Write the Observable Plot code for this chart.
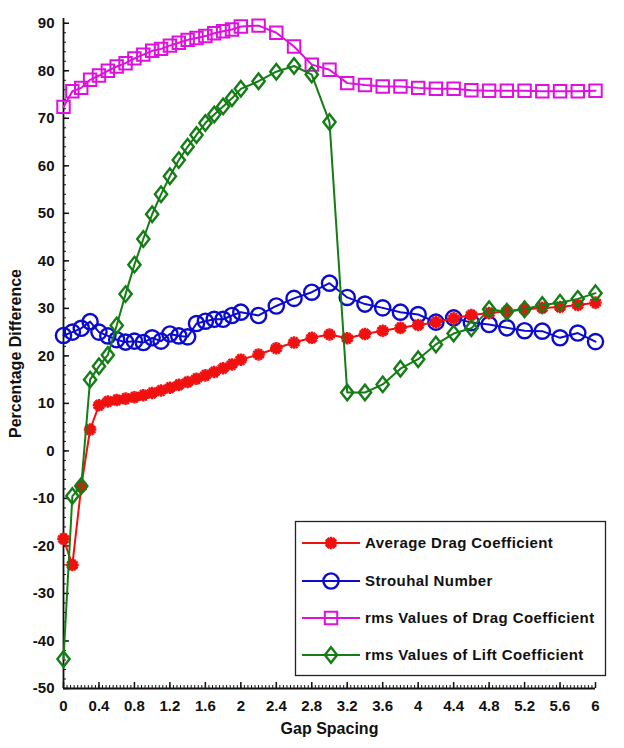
<!DOCTYPE html>
<html>
<head>
<meta charset="utf-8">
<script src="https://cdn.jsdelivr.net/npm/d3@7"></script>
<script src="https://cdn.jsdelivr.net/npm/@observablehq/plot@0.6"></script>
<style>
  html, body { margin: 0; padding: 0; background: #fff; }
  #chart { width: 624px; height: 748px; }
</style>
</head>
<body>
<div id="chart"></div>
<script>
// ---------- data ----------
const gapSpacing = [0, 0.1, 0.2, 0.3, 0.4, 0.5, 0.6, 0.7, 0.8, 0.9, 1.0, 1.1, 1.2, 1.3, 1.4, 1.5, 1.6, 1.7, 1.8, 1.9, 2.0,
  2.2, 2.4, 2.6, 2.8, 3.0, 3.2, 3.4, 3.6, 3.8, 4.0, 4.2, 4.4, 4.6, 4.8, 5.0, 5.2, 5.4, 5.6, 5.8, 6.0];

const avgDrag = [-18.5, -24.0, -7.5, 4.5, 9.6, 10.4, 10.7, 11.0, 11.3, 11.7, 12.2, 12.7, 13.3, 13.9, 14.5, 15.2, 15.9, 16.6, 17.4, 18.2, 19.2,
  20.3, 21.6, 22.8, 23.8, 24.5, 23.7, 24.6, 25.3, 25.9, 26.5, 27.1, 27.9, 28.6, 29.0, 29.4, 29.8, 30.1, 30.3, 30.7, 31.2];

const strouhal = [24.3, 25.0, 25.8, 27.2, 25.0, 24.2, 23.4, 22.9, 23.1, 22.8, 23.8, 23.1, 24.6, 24.2, 24.0, 26.8, 27.3, 27.7, 27.7, 28.5, 29.2,
  28.5, 30.5, 32.1, 33.4, 35.3, 32.3, 30.9, 30.1, 29.2, 28.7, 27.1, 28.0, 27.0, 26.6, 25.9, 25.3, 25.2, 23.8, 24.8, 23.0];

const rmsDrag = [72.4, 75.7, 76.4, 78.1, 79.0, 80.0, 80.9, 81.6, 82.6, 83.4, 84.2, 84.6, 85.3, 85.9, 86.5, 86.9, 87.3, 87.9, 88.3, 88.7, 89.3,
  89.5, 88.0, 85.1, 81.3, 80.2, 77.4, 77.0, 76.7, 76.7, 76.4, 76.2, 76.2, 75.9, 75.8, 75.8, 75.8, 75.7, 75.7, 75.7, 75.8];

const rmsLift = [-43.8, -9.5, -7.4, 15.0, 17.8, 20.2, 26.4, 33.0, 39.2, 44.6, 49.8, 54.0, 57.8, 61.2, 64.0, 66.5, 69.0, 70.8, 72.5, 74.2, 76.2,
  77.8, 79.8, 81.0, 79.2, 69.2, 12.3, 12.3, 14.0, 17.3, 19.3, 22.4, 24.7, 25.8, 29.8, 29.3, 29.8, 30.7, 31.2, 32.0, 33.2];

const seriesNames = ["Average Drag Coefficient", "Strouhal Number", "rms Values of Drag Coefficient", "rms Values of Lift Coefficient"];

const xTickLabels = [0, 0.4, 0.8, 1.2, 1.6, 2, 2.4, 2.8, 3.2, 3.6, 4, 4.4, 4.8, 5.2, 5.6, 6];
const yTickLabels = [-50, -40, -30, -20, -10, 0, 10, 20, 30, 40, 50, 60, 70, 80, 90];

const xLabel = "Gap Spacing";
const yLabel = "Percentage Difference";

// ---------- custom symbols ----------
const asteriskN = {
  draw(ctx, size) {
    const r = Math.sqrt(size / Math.PI);
    const n = 6;
    for (let i = 0; i < n; i++) {
      const a = i * Math.PI / n;
      ctx.moveTo(-r * Math.cos(a), -r * Math.sin(a));
      ctx.lineTo(r * Math.cos(a), r * Math.sin(a));
    }
  }
};
const diamondTall = {
  draw(ctx, size) {
    const r = Math.sqrt(size / Math.PI);
    const w = r * 0.85, h = r * 1.08;
    ctx.moveTo(0, -h); ctx.lineTo(w, 0); ctx.lineTo(0, h); ctx.lineTo(-w, 0); ctx.closePath();
  }
};
const squareOpen = {
  draw(ctx, size) {
    const r = Math.sqrt(size / Math.PI);
    const s = r * 0.9;
    ctx.rect(-s, -s, 2 * s, 2 * s);
  }
};
const circleOpen = {
  draw(ctx, size) {
    const r = Math.sqrt(size / Math.PI);
    ctx.moveTo(r, 0); ctx.arc(0, 0, r, 0, 2 * Math.PI);
  }
};

const styles = [
  {name: seriesNames[0], values: avgDrag,  color: "#f01010", symbol: asteriskN,   r: 6.3, sw: 2.4},
  {name: seriesNames[1], values: strouhal, color: "#0a0ad0", symbol: circleOpen,  r: 7.6, sw: 2.4},
  {name: seriesNames[2], values: rmsDrag,  color: "#dd10dd", symbol: squareOpen,  r: 6.9, sw: 2.0},
  {name: seriesNames[3], values: rmsLift,  color: "#157d15", symbol: diamondTall, r: 7.2, sw: 2.4}
];

const drawOrder = [1, 0, 2, 3];

const seriesMarks = [];
for (const i of drawOrder) {
  const s = styles[i];
  const rows = gapSpacing.map((g, j) => ({gap: g, value: s.values[j]}));
  seriesMarks.push(Plot.line(rows, {x: "gap", y: "value", stroke: s.color, strokeWidth: 2}));
  seriesMarks.push(Plot.dot(rows, {x: "gap", y: "value", symbol: () => s.symbol, r: s.r, stroke: s.color, fill: "none", strokeWidth: s.sw}));
}

const W = 624, H = 748, mL = 63, mR = 29, mT = 18, mB = 60;
const plotW = W - mL - mR, plotH = H - mT - mB;

const xMinor = d3.range(0, 6.0001, 0.04).map(v => +v.toFixed(2));
const yMinor = d3.range(-50, 91, 2);

const chart = Plot.plot({
  width: W, height: H,
  marginLeft: mL, marginRight: mR, marginTop: mT, marginBottom: mB,
  x: {domain: [0, 6]},
  y: {domain: [-50, 91]},
  symbol: {type: "identity"},
  style: {fontFamily: "'Liberation Sans', Arial, sans-serif", fontWeight: "bold", fontSize: "15px", background: "#fff", color: "#111"},
  marks: [
    Plot.tickY(yMinor, {y: d => d, insetRight: plotW - 3, stroke: "#111", strokeWidth: 1}),
    Plot.tickY(yTickLabels, {y: d => d, insetRight: plotW - 6, stroke: "#111", strokeWidth: 1.5}),
    Plot.tickX(xMinor, {x: d => d, insetTop: plotH - 3, stroke: "#111", strokeWidth: 1}),
    Plot.tickX(xTickLabels, {x: d => d, insetTop: plotH - 6, stroke: "#111", strokeWidth: 1.5}),
    Plot.ruleX([0], {stroke: "#111", strokeWidth: 1.8}),
    Plot.ruleY([-50], {stroke: "#111", strokeWidth: 1.8}),
    Plot.axisY(yTickLabels, {tickSize: 0, tickPadding: 9, tickFormat: d => String(d), fontSize: 15, fontWeight: "bold",
      label: null}),
    Plot.axisX(xTickLabels, {tickSize: 0, tickPadding: 12, tickFormat: d => String(d), fontSize: 15, fontWeight: "bold",
      label: null}),
    Plot.axisY({ticks: [], label: yLabel, labelAnchor: "center", labelOffset: 54, labelArrow: "none", fontSize: 16, fontWeight: "bold"}),
    Plot.axisX({ticks: [], label: xLabel, labelAnchor: "center", labelOffset: 45, labelArrow: "none", fontSize: 16, fontWeight: "bold"}),
    ...seriesMarks
  ]
});

document.getElementById("chart").appendChild(chart);

// ---------- legend (inside plot, lower right) ----------
const svg = d3.select(chart);
const lg = svg.append("g").attr("font-family", "'Liberation Sans', Arial, sans-serif").attr("font-weight", "bold")
  .attr("font-size", 15).attr("text-anchor", "start");
lg.append("rect").attr("x", 295.5).attr("y", 521.5).attr("width", 310).attr("height", 154)
  .attr("fill", "#fff").attr("stroke", "#222").attr("stroke-width", 1.3);
const rowsY = [543, 581, 618, 655];
styles.forEach((s, i) => {
  const y = rowsY[i];
  lg.append("line").attr("x1", 302).attr("x2", 360).attr("y1", y).attr("y2", y).attr("stroke", s.color).attr("stroke-width", 2);
  lg.append("path").attr("transform", `translate(331,${y})`)
    .attr("d", d3.symbol(s.symbol, Math.PI * s.r * s.r)())
    .attr("fill", "none").attr("stroke", s.color).attr("stroke-width", s.sw);
  lg.append("text").attr("x", 365).attr("y", y).attr("dy", "0.35em").attr("text-anchor", "start")
    .attr("letter-spacing", "0.4px").attr("fill", "#111").text(s.name);
});
</script>
</body>
</html>
